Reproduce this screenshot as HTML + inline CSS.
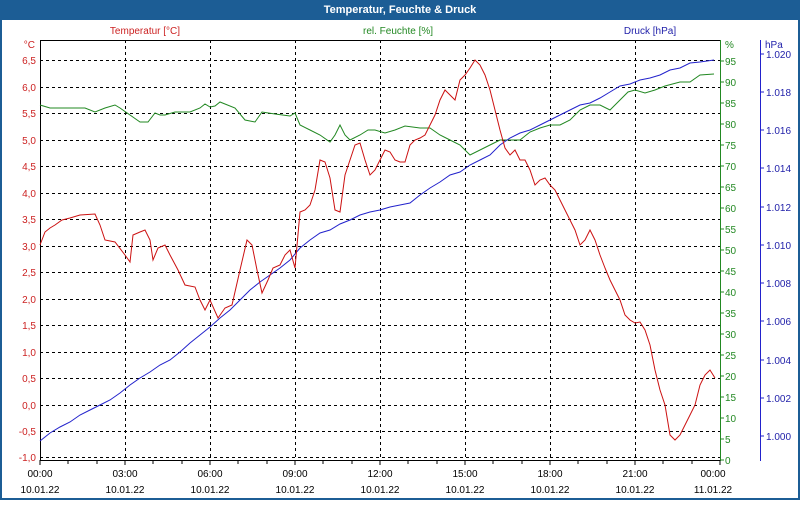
<!DOCTYPE html>
<html><head><meta charset="utf-8"><style>
body{margin:0;width:800px;height:500px;overflow:hidden;font-family:"Liberation Sans",sans-serif}
</style></head><body>
<svg width="800" height="500" xmlns="http://www.w3.org/2000/svg" font-family="Liberation Sans, sans-serif" font-size="10">
<rect width="800" height="500" fill="#1c5d95"/>
<rect x="2" y="20" width="796" height="478" fill="#fff"/>
<text x="400" y="13" fill="#fff" font-weight="bold" font-size="11" text-anchor="middle">Temperatur, Feuchte &amp; Druck</text>
<text x="145" y="34" fill="#cc2222" text-anchor="middle">Temperatur [°C]</text>
<text x="398" y="34" fill="#228822" text-anchor="middle">rel. Feuchte [%]</text>
<text x="650" y="34" fill="#2222aa" text-anchor="middle">Druck [hPa]</text>
<g stroke="#000" stroke-dasharray="3,3" stroke-width="1">
<line x1="40" x2="720" y1="60.5" y2="60.5"/><line x1="40" x2="720" y1="87.5" y2="87.5"/><line x1="40" x2="720" y1="113.5" y2="113.5"/><line x1="40" x2="720" y1="140.5" y2="140.5"/><line x1="40" x2="720" y1="166.5" y2="166.5"/><line x1="40" x2="720" y1="193.5" y2="193.5"/><line x1="40" x2="720" y1="219.5" y2="219.5"/><line x1="40" x2="720" y1="246.5" y2="246.5"/><line x1="40" x2="720" y1="272.5" y2="272.5"/><line x1="40" x2="720" y1="299.5" y2="299.5"/><line x1="40" x2="720" y1="325.5" y2="325.5"/><line x1="40" x2="720" y1="352.5" y2="352.5"/><line x1="40" x2="720" y1="378.5" y2="378.5"/><line x1="40" x2="720" y1="405.5" y2="405.5"/><line x1="40" x2="720" y1="431.5" y2="431.5"/><line x1="40" x2="720" y1="457.5" y2="457.5"/>
<line x1="125.5" x2="125.5" y1="40" y2="460"/><line x1="210.5" x2="210.5" y1="40" y2="460"/><line x1="295.5" x2="295.5" y1="40" y2="460"/><line x1="380.5" x2="380.5" y1="40" y2="460"/><line x1="465.5" x2="465.5" y1="40" y2="460"/><line x1="550.5" x2="550.5" y1="40" y2="460"/><line x1="635.5" x2="635.5" y1="40" y2="460"/>
</g>
<line x1="40" x2="720" y1="40.5" y2="40.5" stroke="#000"/>
<line x1="40.5" x2="40.5" y1="40" y2="461" stroke="#000"/>
<line x1="40" x2="720" y1="460.5" y2="460.5" stroke="#000"/>
<line x1="720.5" x2="720.5" y1="40" y2="461" stroke="#228822"/>
<line x1="760.5" x2="760.5" y1="40" y2="461" stroke="#2222cc"/>
<g stroke="#000"><path d="M40 460v5M68 460v4M97 460v4M125 460v5M153 460v4M182 460v4M210 460v5M238 460v4M267 460v4M295 460v5M323 460v4M352 460v4M380 460v5M408 460v4M437 460v4M465 460v5M493 460v4M522 460v4M550 460v5M578 460v4M607 460v4M635 460v5M663 460v4M692 460v4M720 460v5"/></g>
<g fill="#cc2222" text-anchor="end">
<text x="35" y="48">°C</text><text x="36" y="64">6,5</text><text x="36" y="91">6,0</text><text x="36" y="117">5,5</text><text x="36" y="144">5,0</text><text x="36" y="170">4,5</text><text x="36" y="197">4,0</text><text x="36" y="223">3,5</text><text x="36" y="250">3,0</text><text x="36" y="276">2,5</text><text x="36" y="303">2,0</text><text x="36" y="329">1,5</text><text x="36" y="356">1,0</text><text x="36" y="382">0,5</text><text x="36" y="409">0,0</text><text x="36" y="435">-0,5</text><text x="36" y="461">-1,0</text>
</g>
<g fill="#228822"><path stroke="#228822" d="M720 61h4M720 82h4M720 103h4M720 124h4M720 145h4M720 166h4M720 187h4M720 208h4M720 229h4M720 250h4M720 271h4M720 292h4M720 313h4M720 334h4M720 355h4M720 376h4M720 397h4M720 418h4M720 439h4M720 460h4"/>
<text x="725" y="48">%</text><text x="725" y="65">95</text><text x="725" y="86">90</text><text x="725" y="107">85</text><text x="725" y="128">80</text><text x="725" y="149">75</text><text x="725" y="170">70</text><text x="725" y="191">65</text><text x="725" y="212">60</text><text x="725" y="233">55</text><text x="725" y="254">50</text><text x="725" y="275">45</text><text x="725" y="296">40</text><text x="725" y="317">35</text><text x="725" y="338">30</text><text x="725" y="359">25</text><text x="725" y="380">20</text><text x="725" y="401">15</text><text x="725" y="422">10</text><text x="725" y="443">5</text><text x="725" y="464">0</text></g>
<g fill="#2222aa"><path stroke="#2222cc" d="M760 54h4M760 92h4M760 130h4M760 168h4M760 207h4M760 245h4M760 283h4M760 321h4M760 360h4M760 398h4M760 436h4"/>
<text x="765" y="48">hPa</text><text x="766" y="58">1.020</text><text x="766" y="96">1.018</text><text x="766" y="134">1.016</text><text x="766" y="172">1.014</text><text x="766" y="211">1.012</text><text x="766" y="249">1.010</text><text x="766" y="287">1.008</text><text x="766" y="325">1.006</text><text x="766" y="364">1.004</text><text x="766" y="402">1.002</text><text x="766" y="440">1.000</text></g>
<g fill="#000" text-anchor="middle">
<text x="40" y="477">00:00</text><text x="125" y="477">03:00</text><text x="210" y="477">06:00</text><text x="295" y="477">09:00</text><text x="380" y="477">12:00</text><text x="465" y="477">15:00</text><text x="550" y="477">18:00</text><text x="635" y="477">21:00</text><text x="713" y="477">00:00</text>
<text x="40" y="493">10.01.22</text><text x="125" y="493">10.01.22</text><text x="210" y="493">10.01.22</text><text x="295" y="493">10.01.22</text><text x="380" y="493">10.01.22</text><text x="465" y="493">10.01.22</text><text x="550" y="493">10.01.22</text><text x="635" y="493">10.01.22</text><text x="713" y="493">11.01.22</text>
</g>
<polyline fill="none" stroke="#228822" points="40,105 50,108 70,108 85,108 95,112 105,108 115,105 120,108 130,115 140,122 148,122 155,113 160,115 165,115 175,112 190,112 200,108 205,104 210,107 215,106 220,102 225,104 235,108 245,120 255,122 262,112 275,114 290,116 295,113 300,125 310,130 320,135 330,142 335,135 340,125 345,135 350,140 360,135 368,130 375,130 385,133 395,130 405,126 420,128 430,128 440,135 450,140 460,145 470,155 480,150 490,145 500,140 510,140 520,140 530,132 540,128 550,125 560,125 570,120 580,110 590,105 600,105 610,110 615,105 620,100 628,92 635,90 645,93 655,90 665,86 680,82 690,82 700,75 714,74"/>
<polyline fill="none" stroke="#2222cc" points="40,441 50,433 60,427 70,422 80,415 90,410 100,405 110,400 120,393 130,385 140,378 150,372 160,365 170,360 180,352 190,343 200,335 210,327 220,318 230,310 240,300 250,290 260,282 270,275 280,268 290,260 300,248 310,240 320,233 330,230 340,224 350,220 360,215 370,212 380,210 390,207 400,205 410,203 420,195 430,188 440,182 450,175 460,172 470,165 480,160 490,155 500,145 510,138 520,133 530,130 540,125 550,120 560,115 570,110 580,105 590,103 600,98 610,92 620,86 630,84 640,80 650,78 660,75 670,70 680,68 690,63 700,62 714,60"/>
<polyline fill="none" stroke="#cc1111" points="40,245 45,232 50,228 55,225 62,220 70,218 80,215 95,214 100,225 105,240 115,242 125,255 130,262 133,235 140,232 145,230 150,240 153,260 158,248 165,245 170,255 178,270 185,285 195,287 200,300 205,310 210,300 218,318 225,308 232,305 240,270 247,240 252,245 257,270 262,293 268,280 273,268 280,265 285,255 290,250 295,268 300,212 305,210 310,205 315,190 320,160 325,162 330,178 335,210 340,212 345,175 350,160 355,145 360,143 365,160 370,175 375,170 380,160 385,150 390,152 395,160 400,162 405,162 410,145 415,140 420,138 425,135 430,125 435,115 440,100 445,90 450,95 455,100 460,80 465,75 470,68 475,60 480,65 485,75 490,90 495,110 500,130 505,148 510,155 515,150 520,160 525,160 530,170 535,185 540,180 545,178 550,185 555,190 560,200 565,210 570,220 575,230 580,245 585,240 590,230 595,240 600,255 605,268 610,280 615,290 620,300 625,315 630,320 635,323 640,322 645,330 650,345 655,370 660,390 665,405 670,435 675,440 680,435 685,425 690,415 695,405 700,385 705,375 710,370 715,378"/>
</svg>
</body></html>
